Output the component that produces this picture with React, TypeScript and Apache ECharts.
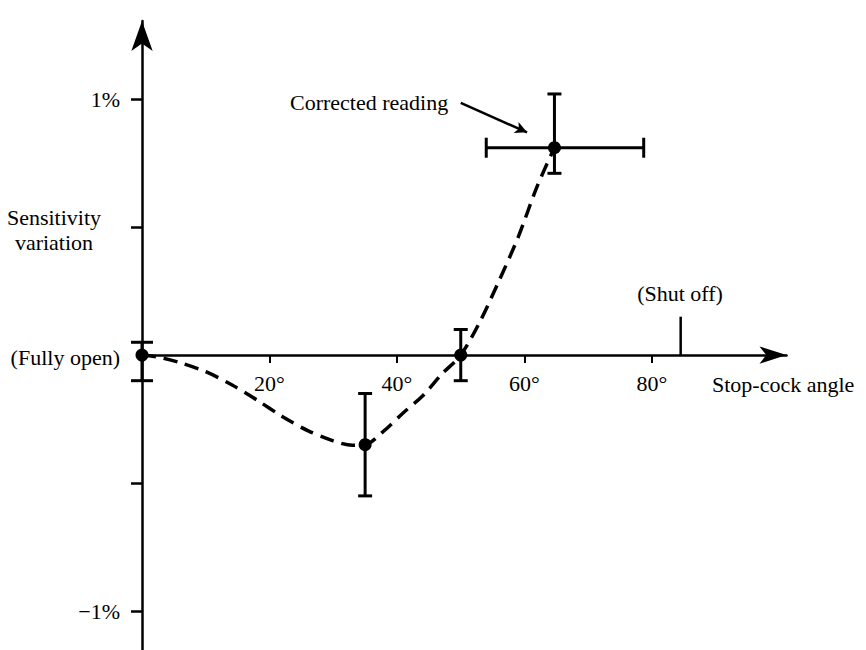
import { useEffect, useRef } from "react";
import * as echarts from "echarts";

// Axis ticks
const angleTicks = [20, 40, 60, 80];
const sensitivityTicks = [-1, -0.5, 0.5, 1];
const sensitivityLabels = [-1, 1];

// Readings (angle in degrees, sensitivity variation in %)
const readingAngles = [0, 35, 50, 64.7];
const readingValues = [0, -0.35, 0, 0.81];
const readingLow = [-0.1, -0.55, -0.1, 0.71];
const readingHigh = [0.05, -0.15, 0.1, 1.02];
const angleLow: (number | null)[] = [null, null, null, 54];
const angleHigh: (number | null)[] = [null, null, null, 78.7];

// Dashed trend curve
const curveAngles = [0, 3, 6, 10, 14, 18, 22, 26, 30, 33, 35, 38, 41, 44, 47, 50, 53, 56, 59, 62, 64.7];
const curveValues = [0, -0.01, -0.03, -0.065, -0.115, -0.175, -0.24, -0.295, -0.335, -0.352, -0.35, -0.295, -0.225, -0.16, -0.075, 0, 0.13, 0.29, 0.46, 0.66, 0.81];

// Shut-off marker
const shutOffAngle = 84.5;
const shutOffHeight = 0.15;

// Annotation arrow
const annotationFrom = [50, 0.985];
const annotationTo = [60.4, 0.87];

const FONT = '"Liberation Serif", "Times New Roman", serif';

export default function App() {
  const ref = useRef<HTMLDivElement>(null);
  useEffect(() => {
    if (!ref.current) return;
    const chart = echarts.init(ref.current, null, { renderer: "svg" });
    const errData = readingAngles.map((a, i) => [
      a,
      readingValues[i],
      readingLow[i],
      readingHigh[i],
      angleLow[i] ?? a,
      angleHigh[i] ?? a,
    ]);
    const textStyle = (extra: any) => ({
      fill: "#000",
      font: `22px ${FONT}`,
      ...extra,
    });
    const yMin = -1.152;
    const yMax = 1.305;
    const gridTop = 21;
    const gridHeight = 629;
    // shift the x axis from the grid bottom up to the zero line
    const xOffset = -((0 - yMin) / (yMax - yMin)) * gridHeight;
    chart.setOption({
      animation: false,
      backgroundColor: "#fff",
      textStyle: { fontFamily: FONT, color: "#000" },
      grid: {
        left: 142,
        top: gridTop,
        width: 644.5,
        height: gridHeight,
        containLabel: false,
        outerBoundsMode: "none",
      },
      xAxis: {
        type: "value",
        min: 0,
        max: 101.1,
        position: "bottom",
        offset: xOffset,
        splitLine: { show: false },
        axisLine: {
          onZero: false,
          symbol: ["none", "arrow"],
          symbolSize: [13, 27],
          lineStyle: { color: "#000", width: 2.5 },
        },
        axisTick: {
          show: true,
          inside: false,
          customValues: angleTicks,
          length: 8,
          lineStyle: { color: "#000", width: 2 },
        },
        axisLabel: {
          customValues: angleTicks,
          formatter: (v: number) => `${v}°`,
          color: "#000",
          fontFamily: FONT,
          fontSize: 22,
          margin: 17,
        },
      },
      yAxis: {
        type: "value",
        min: yMin,
        max: yMax,
        splitLine: { show: false },
        axisLine: {
          onZero: false,
          symbol: ["none", "arrow"],
          symbolSize: [16, 30],
          lineStyle: { color: "#000", width: 2.5 },
        },
        axisTick: {
          show: true,
          customValues: sensitivityTicks,
          length: 11,
          lineStyle: { color: "#000", width: 2.5 },
        },
        axisLabel: {
          customValues: sensitivityLabels,
          formatter: (v: number) => (v > 0 ? `${v}%` : `\u2212${Math.abs(v)}%`),
          color: "#000",
          fontFamily: FONT,
          fontSize: 22,
          margin: 22,
        },
      },
      series: [
        {
          type: "line",
          data: curveAngles.map((a, i) => [a, curveValues[i]]),
          smooth: 0.3,
          showSymbol: false,
          lineStyle: { color: "#000", width: 3.5, type: [14, 8] },
          z: 2,
        },
        {
          type: "line",
          data: [
            [shutOffAngle, 0],
            [shutOffAngle, shutOffHeight],
          ],
          showSymbol: false,
          lineStyle: { color: "#000", width: 2.5 },
          z: 2,
        },
        {
          type: "custom",
          data: errData,
          z: 3,
          renderItem: (params: any, api: any) => {
            const x = api.value(0);
            const y = api.value(1);
            const lo = api.value(2);
            const hi = api.value(3);
            const xl = api.value(4);
            const xh = api.value(5);
            const pLo = api.coord([x, lo]);
            const pHi = api.coord([x, hi]);
            const cap = params.dataIndex === 0 ? 11 : 7;
            const style = { stroke: "#000", lineWidth: 3 };
            const children: any[] = [
              { type: "line", shape: { x1: pLo[0], y1: pLo[1], x2: pHi[0], y2: pHi[1] }, style },
              { type: "line", shape: { x1: pLo[0] - cap, y1: pLo[1], x2: pLo[0] + cap, y2: pLo[1] }, style },
              { type: "line", shape: { x1: pHi[0] - cap, y1: pHi[1], x2: pHi[0] + cap, y2: pHi[1] }, style },
            ];
            if (xh > xl) {
              const pL = api.coord([xl, y]);
              const pR = api.coord([xh, y]);
              const vc = 10;
              children.push(
                { type: "line", shape: { x1: pL[0], y1: pL[1], x2: pR[0], y2: pR[1] }, style },
                { type: "line", shape: { x1: pL[0], y1: pL[1] - vc, x2: pL[0], y2: pL[1] + vc }, style },
                { type: "line", shape: { x1: pR[0], y1: pR[1] - vc, x2: pR[0], y2: pR[1] + vc }, style }
              );
            }
            return { type: "group", children };
          },
        },
        {
          type: "scatter",
          data: readingAngles.map((a, i) => [a, readingValues[i]]),
          symbolSize: 13,
          itemStyle: { color: "#000", opacity: 1 },
          z: 4,
          markLine: {
            silent: true,
            symbol: ["none", "arrow"],
            symbolSize: [9, 12],
            label: { show: false },
            lineStyle: { color: "#000", width: 2.5, type: "solid" },
            data: [[{ coord: annotationFrom }, { coord: annotationTo }]],
          },
        },
      ],
      graphic: [
        {
          type: "text",
          x: 54,
          y: 229.5,
          style: textStyle({
            text: "Sensitivity\nvariation",
            align: "center",
            textAlign: "center",
            verticalAlign: "middle",
            textVerticalAlign: "middle",
            lineHeight: 25,
          }),
        },
        {
          type: "text",
          x: 120,
          y: 357,
          style: textStyle({
            text: "(Fully open)",
            align: "right",
            textAlign: "right",
            verticalAlign: "middle",
            textVerticalAlign: "middle",
          }),
        },
        {
          type: "text",
          x: 290,
          y: 102,
          style: textStyle({
            text: "Corrected reading",
            align: "left",
            textAlign: "left",
            verticalAlign: "middle",
            textVerticalAlign: "middle",
          }),
        },
        {
          type: "text",
          x: 680,
          y: 293,
          style: textStyle({
            text: "(Shut off)",
            align: "center",
            textAlign: "center",
            verticalAlign: "middle",
            textVerticalAlign: "middle",
          }),
        },
        {
          type: "text",
          x: 712,
          y: 384,
          style: textStyle({
            text: "Stop-cock angle",
            align: "left",
            textAlign: "left",
            verticalAlign: "middle",
            textVerticalAlign: "middle",
          }),
        },
      ],
    });
    return () => chart.dispose();
  }, []);
  return (
    <div
      ref={ref}
      style={{ position: "fixed", left: 0, top: 0, width: 866, height: 650, background: "#fff" }}
    />
  );
}
